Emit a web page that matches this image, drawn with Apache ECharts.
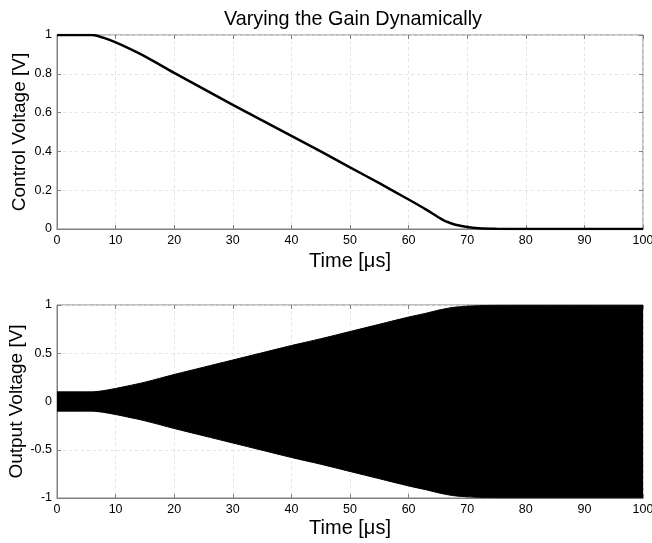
<!DOCTYPE html>
<html>
<head>
<meta charset="utf-8">
<script src="https://cdn.jsdelivr.net/npm/echarts@6/dist/echarts.min.js"></script>
<style>
  html, body { margin: 0; padding: 0; background: #fff; }
  #chart { width: 652px; height: 543px; }
</style>
</head>
<body>
<div id="chart"></div>
<script>
// Control voltage applied to the variable-gain stage (time in microseconds)
const ctrlTime    = [0, 5, 6, 7, 8, 10, 12, 15, 20, 25, 30, 35, 40, 45, 50, 55, 60, 63, 65, 66, 67, 68, 70, 72, 75, 80, 100];
const ctrlVoltage = [1, 1, 1, 0.995, 0.985, 0.962, 0.935, 0.89, 0.805, 0.722, 0.64, 0.56, 0.48, 0.40, 0.318, 0.236, 0.152, 0.10, 0.062, 0.045, 0.032, 0.022, 0.01, 0.004, 0.001, 0, 0];

// Envelope of the fast output oscillation
const envTime  = [0, 5, 6, 7, 8, 10, 12, 15, 20, 25, 30, 35, 40, 45, 50, 55, 60, 63, 65, 66, 67, 68, 70, 72, 75, 80, 100];
const envUpper = [0.10, 0.10, 0.10, 0.105, 0.113, 0.135, 0.16, 0.20, 0.28, 0.355, 0.43, 0.505, 0.58, 0.65, 0.725, 0.80, 0.875, 0.915, 0.945, 0.958, 0.97, 0.978, 0.988, 0.993, 0.997, 0.998, 0.998];
const envLower = [-0.10, -0.10, -0.10, -0.105, -0.113, -0.135, -0.16, -0.20, -0.28, -0.355, -0.43, -0.505, -0.58, -0.65, -0.725, -0.80, -0.875, -0.915, -0.945, -0.958, -0.97, -0.978, -0.988, -0.993, -0.997, -0.998, -0.998];

const pairs = (xs, ys) => xs.map((x, i) => [x, ys[i]]);

const FONT = '"Liberation Sans", Arial, sans-serif';
const BOX = '#808080';
const GRIDLINE = { show: true, lineStyle: { color: '#e4e4e4', type: [3, 3] } };
const TICK = { inside: true, length: 4, lineStyle: { color: BOX } };

function mainX(grid, gap) {
  return {
    type: 'value', gridIndex: grid, min: 0, max: 100, interval: 10,
    name: 'Time [\u03bcs]', nameLocation: 'middle', nameGap: gap, nameMoveOverlap: false,
    nameTextStyle: { fontFamily: FONT, fontSize: 20, color: '#000' },
    axisLine: { show: true, onZero: false, lineStyle: { color: BOX } },
    axisTick: TICK,
    axisLabel: { fontFamily: FONT, fontSize: 12.5, color: '#000', margin: 5 },
    splitLine: GRIDLINE
  };
}
function tickOnlyX(grid) {
  return {
    type: 'value', gridIndex: grid, position: 'top', min: 0, max: 100, interval: 10,
    axisLine: { show: false, onZero: false }, axisLabel: { show: false }, splitLine: { show: false },
    axisTick: TICK
  };
}
function mainY(grid, min, max, interval, name, gap) {
  return {
    type: 'value', gridIndex: grid, min: min, max: max, interval: interval,
    name: name, nameLocation: 'middle', nameGap: gap, nameMoveOverlap: false,
    nameTextStyle: { fontFamily: FONT, fontSize: 19, color: '#000' },
    axisLine: { show: true, onZero: false, lineStyle: { color: BOX } },
    axisTick: TICK,
    axisLabel: { fontFamily: FONT, fontSize: 12.5, color: '#000', margin: 5 },
    splitLine: GRIDLINE
  };
}
function tickOnlyY(grid, min, max, interval) {
  return {
    type: 'value', gridIndex: grid, position: 'right', min: min, max: max, interval: interval,
    axisLine: { show: false, onZero: false }, axisLabel: { show: false }, splitLine: { show: false },
    axisTick: TICK
  };
}

const chart = echarts.init(document.getElementById('chart'), null, { renderer: 'canvas' });
chart.setOption({
  backgroundColor: '#fff',
  animation: false,
  title: {
    text: 'Varying the Gain Dynamically',
    left: 348, top: 5, textAlign: 'center',
    textStyle: { fontFamily: FONT, fontSize: 19.8, fontWeight: 'normal', color: '#000' }
  },
  grid: [
    { left: 57, top: 35, width: 586, height: 194, containLabel: false, outerBoundsMode: 'none',
      show: true, borderColor: BOX, borderWidth: 1, backgroundColor: 'transparent' },
    { left: 57, top: 305, width: 586, height: 193, containLabel: false, outerBoundsMode: 'none',
      show: true, borderColor: BOX, borderWidth: 1, backgroundColor: 'transparent' }
  ],
  xAxis: [mainX(0, 22), tickOnlyX(0), mainX(1, 20), tickOnlyX(1)],
  yAxis: [
    mainY(0, 0, 1, 0.2, 'Control Voltage [V]', 28),
    tickOnlyY(0, 0, 1, 0.2),
    mainY(1, -1, 1, 0.5, 'Output Voltage [V]', 31),
    tickOnlyY(1, -1, 1, 0.5)
  ],
  series: [
    {
      type: 'line', xAxisIndex: 0, yAxisIndex: 0, smooth: 0.3, symbol: 'none',
      lineStyle: { color: '#000', width: 2.5 },
      data: pairs(ctrlTime, ctrlVoltage)
    },
    {
      // upper half of the oscillation band; fill overlaps the lower half so no seam shows at 0
      type: 'line', xAxisIndex: 2, yAxisIndex: 2, smooth: 0.3, symbol: 'none',
      lineStyle: { color: '#000', width: 1 },
      areaStyle: { color: '#000', opacity: 1, origin: -0.08 },
      data: pairs(envTime, envUpper)
    },
    {
      type: 'line', xAxisIndex: 2, yAxisIndex: 2, smooth: 0.3, symbol: 'none',
      lineStyle: { color: '#000', width: 1 },
      areaStyle: { color: '#000', opacity: 1, origin: 0.08 },
      data: pairs(envTime, envLower)
    }
  ]
});
</script>
</body>
</html>
